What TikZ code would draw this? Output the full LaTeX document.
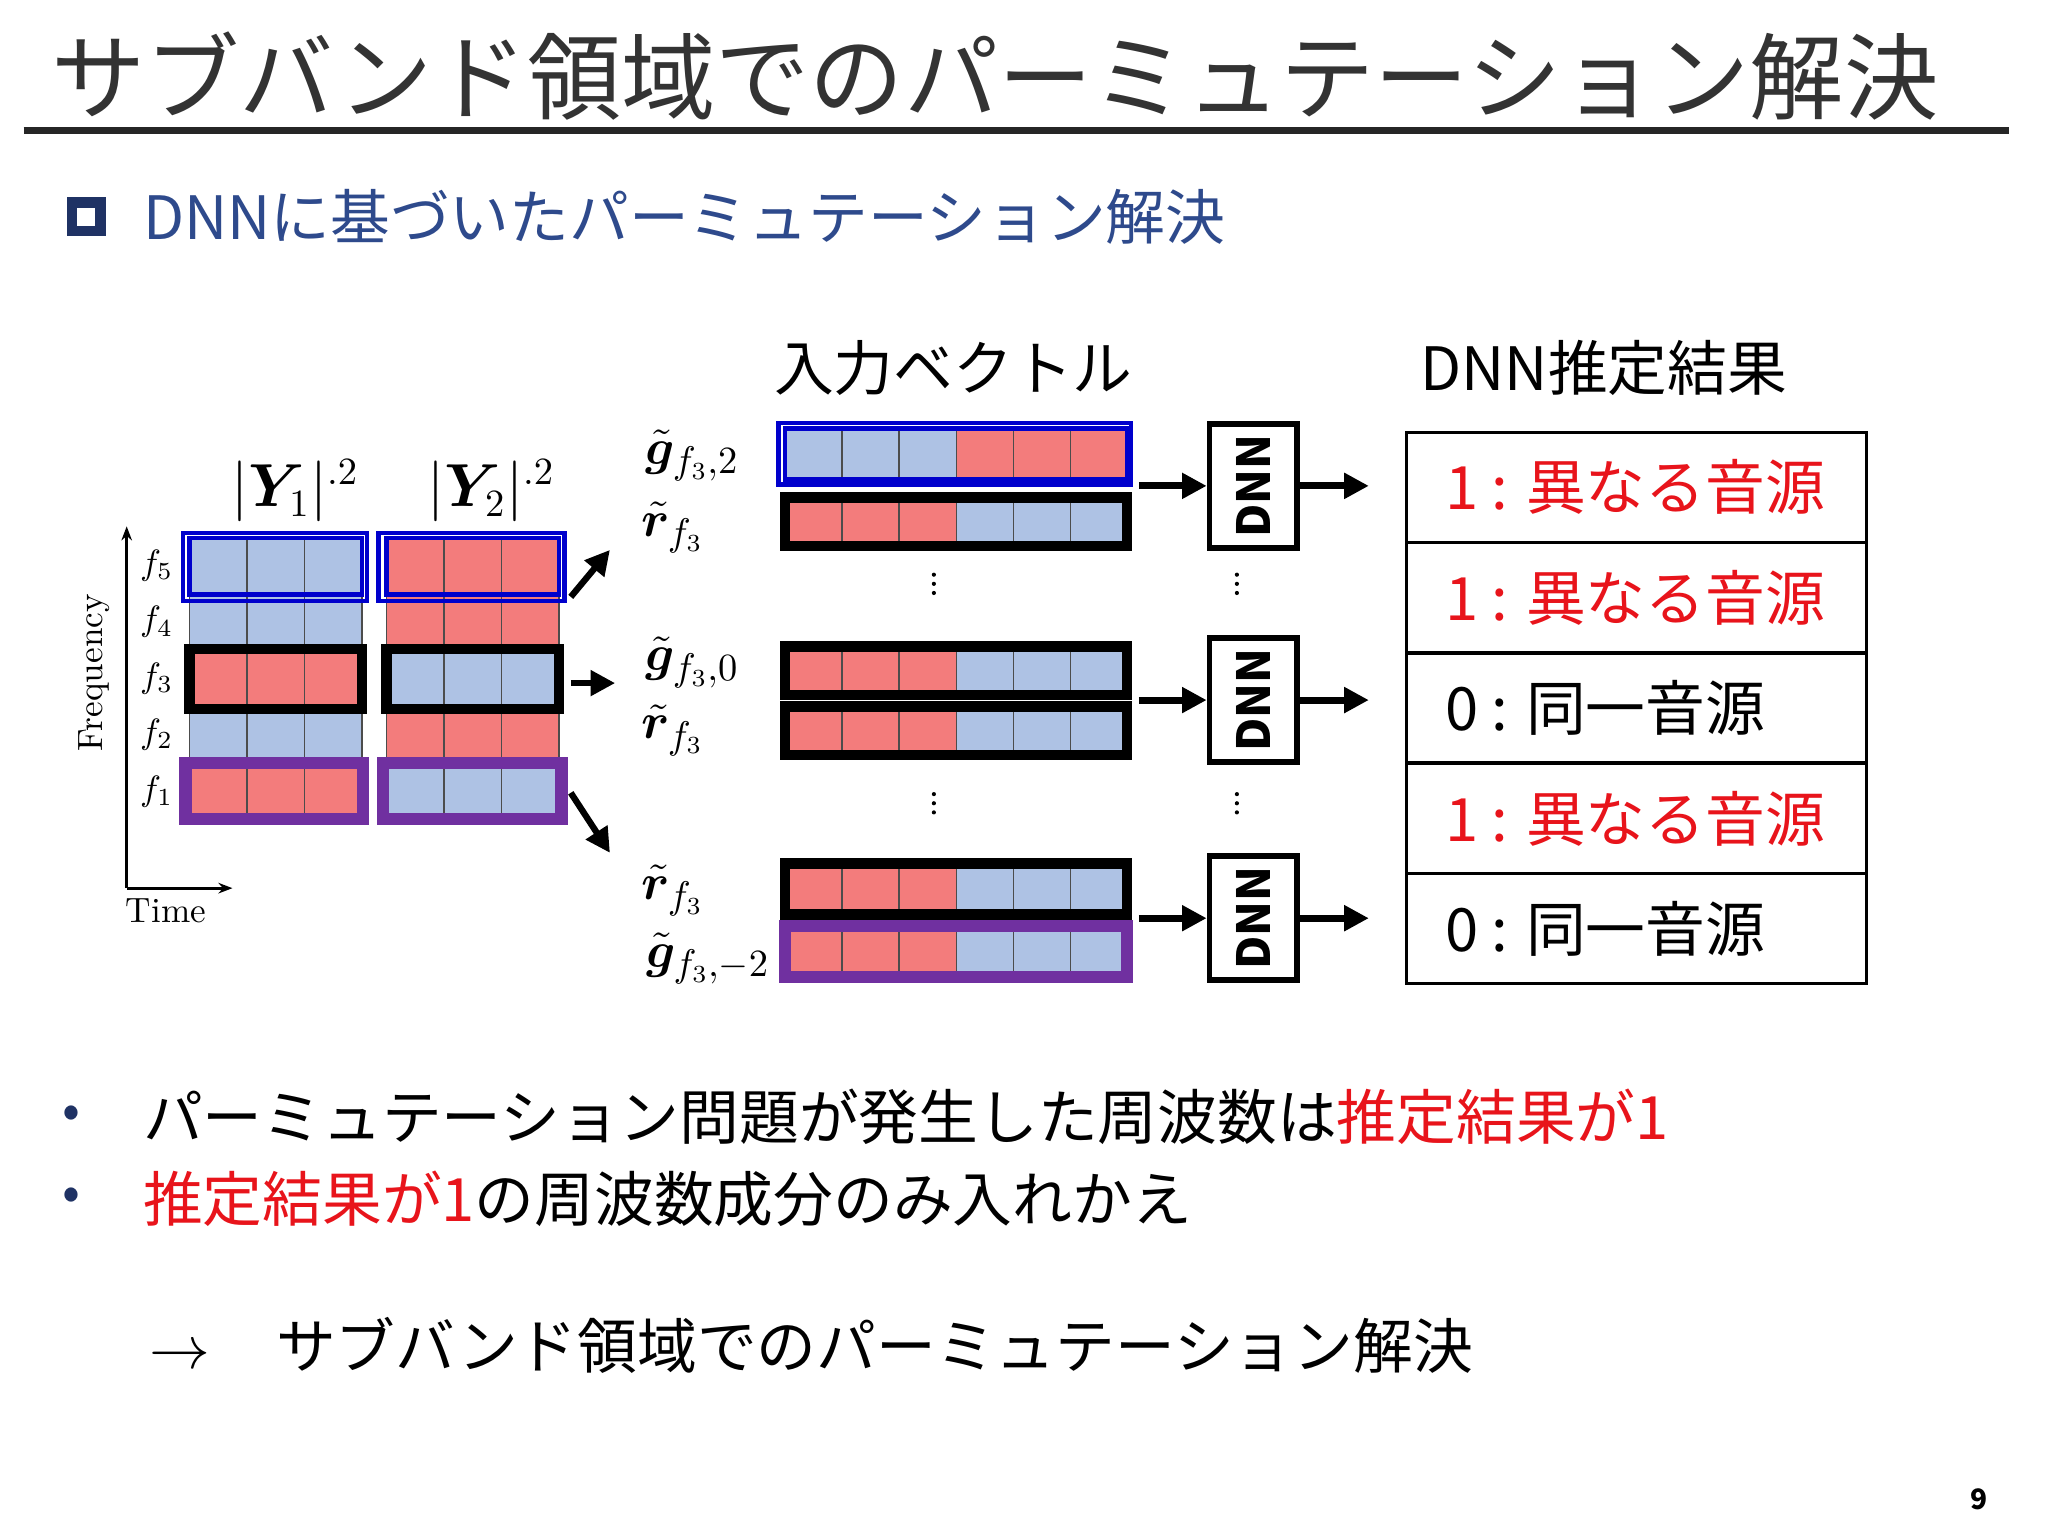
\documentclass[tikz,border=0pt]{standalone}
\usepackage{fontspec}
\setmainfont{Noto Sans CJK JP}
\newfontfamily\lm{Latin Modern Roman}
\usepackage{amsmath,bm}
\usetikzlibrary{arrows.meta}
\definecolor{cb}{HTML}{AEC2E4}
\definecolor{cr}{HTML}{F37C7C}
\definecolor{navy}{HTML}{1F3264}
\definecolor{sub}{HTML}{2E4A8C}
\definecolor{pur}{HTML}{7030A0}
\definecolor{jred}{HTML}{E8141B}
\begin{document}
\begin{tikzpicture}[x=0.013061cm,y=-0.013061cm,
  cell/.style={draw=black!70,line width=0.4pt},
  arr/.style={-{Triangle[length=7pt,width=7pt]},line width=2pt},
  res/.style={font=\fontsize{17}{17}\selectfont,anchor=west},
  dnn/.style={draw,line width=1.6pt,minimum width=67*0.013061cm,minimum height=95*0.013061cm,inner sep=0pt},
  lmath/.style={font=\fontsize{15}{15}\selectfont}]
\useasboundingbox (0,0) rectangle (1568,1176);
\fill[white] (0,0) rectangle (1568,1176);
% title
\node[anchor=west,text=black!80,font=\fontsize{26.8}{26.8}\selectfont] (title) at (30,58) {サブバンド領域でのパーミュテーション解決};
\draw[line width=2pt,black!85] (18,100) -- (1538,100);
\node[draw=navy,line width=3pt,minimum size=22*0.013061cm,inner sep=0pt] (sq) at (66,166) {};
\node[anchor=west,text=sub,font=\fontsize{17}{17}\selectfont] (sub) at (100,166) {DNNに基づいたパーミュテーション解決};
% grids
\def\rh{43.2}
\foreach \c [count=\i from 0] in {cb,cb,cr,cb,cr}{
  \foreach \j in {0,1,2}{\fill[\c] (145+\j*44,412+\i*\rh) rectangle (189+\j*44,412+\i*\rh+\rh);
   \draw[cell] (145+\j*44,412+\i*\rh) rectangle (189+\j*44,412+\i*\rh+\rh);}}
\foreach \c [count=\i from 0] in {cr,cr,cb,cr,cb}{
  \foreach \j in {0,1,2}{\fill[\c] (296+\j*44,412+\i*\rh) rectangle (340+\j*44,412+\i*\rh+\rh);
   \draw[cell] (296+\j*44,412+\i*\rh) rectangle (340+\j*44,412+\i*\rh+\rh);}}
\draw[blue!80!black,line width=1.3pt] (145,412) rectangle (277,455);
\draw[blue!80!black,line width=1.3pt] (140,408) rectangle (281,460);
\draw[blue!80!black,line width=1.3pt] (296,412) rectangle (428,455);
\draw[blue!80!black,line width=1.3pt] (290,408) rectangle (432,460);
\draw[black,line width=3pt] (145,497) rectangle (277,543);
\draw[black,line width=3pt] (296,497) rectangle (428,543);
\draw[pur,line width=3.5pt] (142,584) rectangle (278,627);
\draw[pur,line width=3.5pt] (293,584) rectangle (430,627);
\node[font=\fontsize{16}{16}\selectfont] (y1) at (226,376) {$|\bm{Y}_{1}|^{.2}$};
\node[font=\fontsize{16}{16}\selectfont] (y2) at (376,376) {$|\bm{Y}_{2}|^{.2}$};
\coordinate (o) at (97,680);
\coordinate (ot) at (97,403);
\coordinate (or) at (178,680);
\draw[-{Stealth[length=4pt]},line width=0.8pt] (o) -- (ot);
\draw[-{Stealth[length=4pt]},line width=0.8pt] (o) -- (or);
\node[rotate=90,font=\lm\fontsize{10}{10}\selectfont] (fr) at (72,515) {Frequency};
\node[font=\lm\fontsize{10}{10}\selectfont] (tm) at (127,697) {Time};
\foreach \k [count=\i from 0] in {5,4,3,2,1}{\node[font=\fontsize{10}{10}\selectfont] (fl\k) at (120,433+\i*\rh) {$f_{\k}$};}
\coordinate (a1s) at (437,457); \coordinate (a1e) at (467,421);
\coordinate (a2s) at (437,523); \coordinate (a2e) at (471,523);
\coordinate (a3s) at (437,607); \coordinate (a3e) at (467,653);
\draw[arr,line width=1.8pt] (a1s) -- (a1e);
\draw[arr,line width=1.8pt] (a2s) -- (a2e);
\draw[arr,line width=1.8pt] (a3s) -- (a3e);
% vectors
\newcommand{\vecrow}[4]{%
  \foreach \j in {0,1,2}{\fill[#3] (601+\j*43.7,#1) rectangle (644.7+\j*43.7,#2); \draw[cell] (601+\j*43.7,#1) rectangle (644.7+\j*43.7,#2);}
  \foreach \j in {3,4,5}{\fill[#4] (601+\j*43.7,#1) rectangle (644.7+\j*43.7,#2); \draw[cell] (601+\j*43.7,#1) rectangle (644.7+\j*43.7,#2);}}
\vecrow{328}{367}{cb}{cr}
\draw[blue!80!black,line width=1.3pt] (601,328) rectangle (863,367);
\draw[blue!80!black,line width=1.3pt] (596,324) rectangle (866,371);
\vecrow{381}{418}{cr}{cb}
\draw[line width=3pt] (601,381) rectangle (863,418);
\vecrow{495}{532}{cr}{cb}
\draw[line width=3pt] (601,495) rectangle (863,532);
\vecrow{541}{578}{cr}{cb}
\draw[line width=3pt] (601,541) rectangle (863,578);
\vecrow{661}{700}{cr}{cb}
\draw[line width=3pt] (601,661) rectangle (863,700);
\vecrow{709}{748}{cr}{cb}
\draw[pur,line width=3.5pt] (601,709) rectangle (863,748);
\node[lmath] (g2) at (530,349) {$\tilde{\bm g}_{f_3,2}$};
\node[lmath] (r1) at (515,404) {$\tilde{\bm r}_{f_3}$};
\node[lmath] (g0) at (530,507) {$\tilde{\bm g}_{f_3,0}$};
\node[lmath] (r2) at (515,559) {$\tilde{\bm r}_{f_3}$};
\node[lmath] (r3) at (515,682) {$\tilde{\bm r}_{f_3}$};
\node[lmath] (gm) at (542,734) {$\tilde{\bm g}_{f_3,-2}$};
\foreach \x in {715,947}{\foreach \y in {447,615}{\foreach \d in {-7,0,7}{\fill (\x,\y+\d) circle (1.6);}}}
\node[font=\fontsize{17}{17}\selectfont] (h1) at (730,282) {入力ベクトル};
\node[font=\fontsize{17}{17}\selectfont] (h2) at (1228,282) {DNN推定結果};
\foreach \n/\y in {1/372,2/536,3/703}{
  \node[dnn] (d\n) at (959.5,\y) {\rotatebox{90}{\fontsize{13}{13}\selectfont\bfseries DNN}};
  \coordinate (s\n) at (872,\y); \coordinate (e\n) at (1048,\y);
  \draw[arr] (s\n) -- (d\n.west);
  \draw[arr] (d\n.east) -- (e\n);}
% table
\draw[line width=1pt] (1077,331) rectangle (1429,753);
\foreach \i in {1,2,3,4}{\draw[line width=1pt] (1077,331+\i*84.4) -- (1429,331+\i*84.4);}
\node[res,text=jred] (t1) at (1097,373) {1 : 異なる音源};
\node[res,text=jred] (t2) at (1097,458) {1 : 異なる音源};
\node[res] (t3) at (1097,542) {0 : 同一音源};
\node[res,text=jred] (t4) at (1097,627) {1 : 異なる音源};
\node[res] (t5) at (1097,711) {0 : 同一音源};
% bullets
\node[text=navy,font=\fontsize{15}{15}\selectfont] (b1) at (55,855) {•};
\node[text=navy,font=\fontsize{15}{15}\selectfont] (b2) at (55,918) {•};
\node[anchor=west,font=\fontsize{17}{17}\selectfont] (l1) at (100,855) {パーミュテーション問題が発生した周波数は\textcolor{jred}{推定結果が1}};
\node[anchor=west,font=\fontsize{17}{17}\selectfont] (l2) at (100,918) {\textcolor{jred}{推定結果が1}の周波数成分のみ入れかえ};
\node[anchor=west,font=\fontsize{17}{17}\selectfont] (l3) at (105,1030) {$\rightarrow$\hspace{1.1em}サブバンド領域でのパーミュテーション解決};
\node[font=\bfseries\fontsize{8}{8}\selectfont] (pg) at (1515,1148) {9};
\end{tikzpicture}
\end{document}
